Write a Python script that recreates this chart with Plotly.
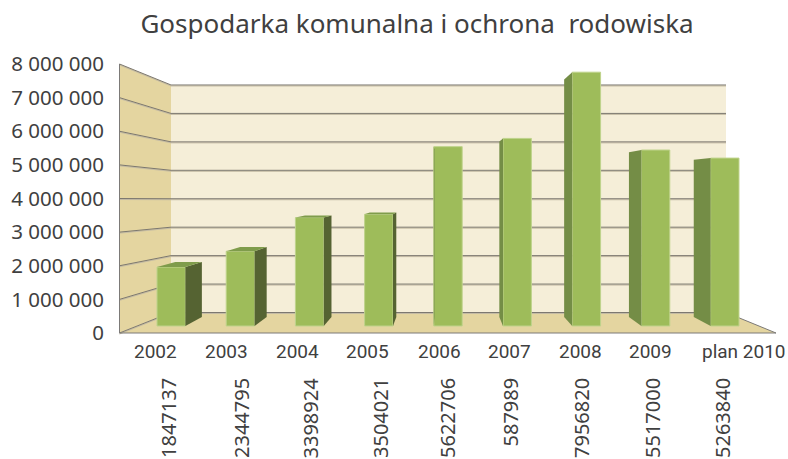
import plotly.graph_objects as go

# ---- data ----
categories = ["2002", "2003", "2004", "2005", "2006", "2007", "2008", "2009", "plan 2010"]
values = [1847137, 2344795, 3398924, 3504021, 5622706, 5879890, 7956820, 5517000, 5263840]
value_labels = ["1847137", "2344795", "3398924", "3504021", "5622706", "587989", "7956820", "5517000", "5263840"]
tick_values = [0, 1000000, 2000000, 3000000, 4000000, 5000000, 6000000, 7000000, 8000000]
tick_labels = ["0", "1 000 000", "2 000 000", "3 000 000", "4 000 000", "5 000 000", "6 000 000", "7 000 000", "8 000 000"]
title = "Gospodarka komunalna i ochrona \u00a0rodowiska"

# ---- layout constants (pixels of the 788x459 page) ----
W, H = 788, 459
ML, MT, MB = 105, 60, 119
X0, XSTEP = 171.2, 69.2        # centre of first bar, spacing
BASE, PX_PER_M = 326.0, 31.9   # bar baseline, pixels per million
BAR_W = 0.41
VX, VY, K = 445.0, 186.0, 0.0635  # vanishing point and bar depth

F_BASE, F_SCALE = 333.0, 33.625   # front edge of the side wall
B_BASE, B_SCALE = 312.5, 28.44    # back wall
FRONT_L, BACK_L, BACK_R, FRONT_R = 119.5, 171.0, 726.0, 776.0

FONT_TICK = "Noto Sans"
INK = "#404040"
WALL, SIDE, FLOOR = "#F5EED8", "#E4D5A0", "#E4D5A0"
BAR, BAR_EDGE, BAR_DARK, BAR_MID, BAR_TOP = "#9EBC5A", "#BFD38C", "#556332", "#748D46", "#7F9C4B"
GRID, GRID_SH, EDGE = "#7C7870", "#C4BBA4", "#7C7A78"


def dx(px):  # page x -> data x
    return (px - X0) / XSTEP


def dy(py):  # page y -> data y
    return (BASE - py) / PX_PER_M * 1e6


def paper_y(py):
    return (H - MB - py) / (H - MB - MT)


def px_x(i):
    return X0 + XSTEP * i


def px_y(v):
    return BASE - v / 1e6 * PX_PER_M


def back(px, py):  # back of a bar, towards the vanishing point
    return px + (VX - px) * K, py + (VY - py) * K


def path(points):
    return "M " + " L ".join(f"{dx(x):.4f},{dy(y):.1f}" for x, y in points) + " Z"


def line(x1, y1, x2, y2, color, width):
    return dict(type="line", layer="below", xref="x", yref="y", x0=dx(x1), y0=dy(y1), x1=dx(x2), y1=dy(y2),
                line=dict(color=color, width=width))


def poly(points, color):
    return dict(type="path", layer="below", xref="x", yref="y", path=path(points), fillcolor=color,
                line=dict(width=0))


fy = lambda v: F_BASE - v / 1e6 * F_SCALE
by = lambda v: B_BASE - v / 1e6 * B_SCALE
top = tick_values[-1]

shapes = [
    poly([(BACK_L, by(top)), (BACK_R, by(top)), (BACK_R, by(0)), (BACK_L, by(0))], WALL),
    poly([(FRONT_L, fy(top)), (BACK_L, by(top)), (BACK_L, by(0)), (FRONT_L, fy(0))], SIDE),
    poly([(FRONT_L, fy(0)), (BACK_L, by(0)), (BACK_R, by(0)), (FRONT_R, fy(0))], FLOOR),
]
for v in tick_values:
    shapes.append(line(BACK_L, by(v) + 1, BACK_R, by(v) + 1, GRID_SH, 1))
    shapes.append(line(FRONT_L, fy(v) + 1, BACK_L, by(v) + 1, GRID_SH, 1))
for v in tick_values:
    shapes.append(line(BACK_L, by(v), BACK_R, by(v), GRID, 1))
    shapes.append(line(FRONT_L, fy(v), BACK_L, by(v), GRID, 1))
shapes.append(line(FRONT_L, fy(0), FRONT_L, fy(top), EDGE, 1))
shapes.append(line(FRONT_L, fy(0), FRONT_R, fy(0), EDGE, 1.2))
shapes.append(line(BACK_R, by(0), FRONT_R, fy(0), EDGE, 1))

fig = go.Figure()

# depth faces of each bar, computed from its value
half = BAR_W * XSTEP / 2
for i, v in enumerate(values):
    xc = px_x(i)
    yt, yb = px_y(v), px_y(0)
    side_x = xc + half if xc < VX else xc - half
    color = BAR_DARK if xc < VX else BAR_MID
    bt = back(side_x, yt)
    bb = back(side_x, yb)
    pts = [(side_x, yt), bt, bb, (side_x, yb), (side_x, yt)]
    if abs(bt[0] - side_x) > 0.5:
        fig.add_trace(go.Scatter(x=[dx(p[0]) for p in pts], y=[dy(p[1]) for p in pts], mode="lines",
                                 fill="toself", fillcolor=color, line=dict(width=0), hoverinfo="skip",
                                 showlegend=False))
    if yt > VY:  # the lid is visible only on bars below eye level
        a, b = back(xc - half, yt), back(xc + half, yt)
        pts = [(xc - half, yt), a, b, (xc + half, yt), (xc - half, yt)]
        fig.add_trace(go.Scatter(x=[dx(p[0]) for p in pts], y=[dy(p[1]) for p in pts], mode="lines",
                                 fill="toself", fillcolor=BAR_TOP, line=dict(width=0), hoverinfo="skip",
                                 showlegend=False))

fig.add_trace(go.Bar(x=list(range(len(categories))), y=values, width=BAR_W,
                     marker=dict(color=BAR, line=dict(color=BAR_EDGE, width=1)), showlegend=False,
                     hovertext=categories))

# carries the printed value scale
fig.add_trace(go.Scatter(x=[0] * len(tick_values), y=tick_values, yaxis="y2", mode="markers",
                         marker=dict(opacity=0), hoverinfo="skip", showlegend=False))

year_px = [155.5, 226, 297, 367, 439, 509, 580, 650, 744]
number_px = [168, 241, 310, 380, 447, 510, 581, 652, 722]
annotations = []
for text, px in zip(categories, year_px):
    annotations.append(dict(text=text, x=dx(px), xref="x", y=paper_y(351), yref="paper",
                            yanchor="middle", xanchor="center", showarrow=False,
                            font=dict(family="Roboto", size=19, color=INK)))
for text, px in zip(value_labels, number_px):
    annotations.append(dict(text=text, x=dx(px), xref="x", y=paper_y(376), yref="paper",
                            yanchor="top", xanchor="center", textangle=-90, showarrow=False,
                            font=dict(family=FONT_TICK, size=20, color=INK)))

plot_bottom = H - MB
fig.update_layout(
    width=W, height=H, autosize=False,
    margin=dict(l=ML, r=0, t=MT, b=MB, pad=0),
    paper_bgcolor="white", plot_bgcolor="rgba(0,0,0,0)",
    title=dict(text=title, x=417 / W, xanchor="center", xref="container",
               y=1 - 24 / H, yanchor="middle",
               font=dict(family=FONT_TICK, size=26, color=INK)),
    xaxis=dict(range=[dx(ML), dx(W)], visible=False, fixedrange=True),
    yaxis=dict(range=[dy(plot_bottom), dy(MT)], visible=False, fixedrange=True),
    yaxis2=dict(overlaying="y", side="left", anchor="x",
                range=[(F_BASE - plot_bottom) / F_SCALE * 1e6, (F_BASE - MT) / F_SCALE * 1e6],
                tickvals=tick_values, ticktext=tick_labels, showgrid=False, zeroline=False, showline=False,
                ticks="", tickfont=dict(family=FONT_TICK, size=20.5, color=INK), fixedrange=True),
    shapes=shapes, annotations=annotations, showlegend=False, hovermode=False,
)

fig.write_html("out.html", config=dict(displayModeBar=False),
               post_script="document.body.style.margin='0';document.body.style.overflow='hidden';")
